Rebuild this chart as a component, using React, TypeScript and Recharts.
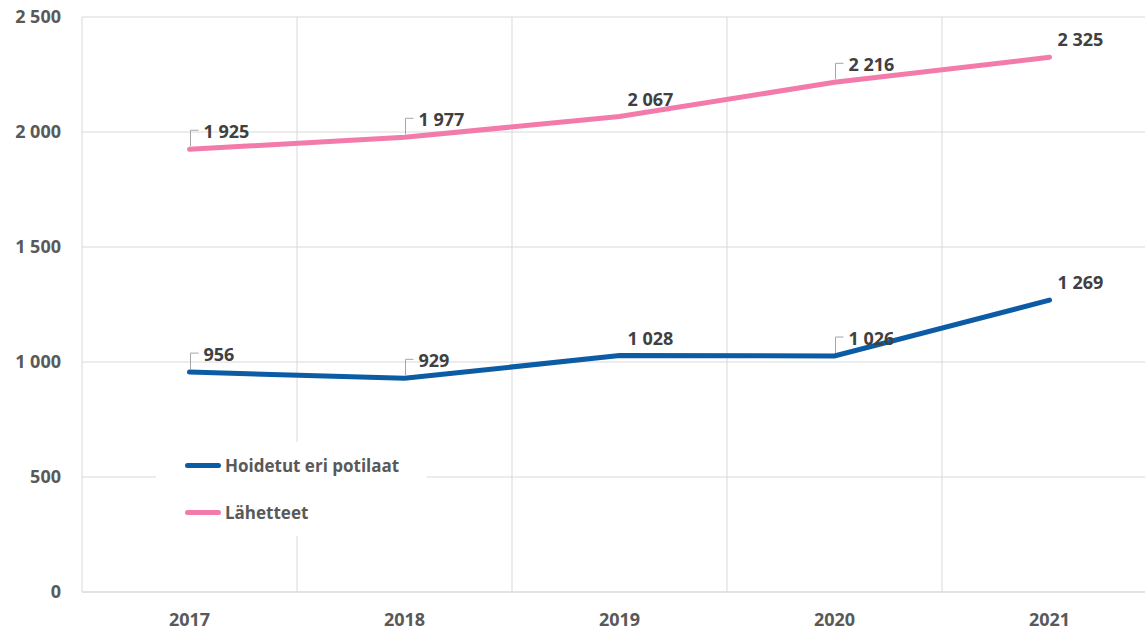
import { CartesianGrid, LabelList, Legend, Line, LineChart, XAxis, YAxis } from 'recharts'

const YEARS = ['2017', '2018', '2019', '2020', '2021']
const PATIENTS = [956, 929, 1028, 1026, 1269]
const REFERRALS = [1925, 1977, 2067, 2216, 2325]
// which data labels get the little leader line in the original
const PATIENT_LEADERS = [true, true, false, true, false]
const REFERRAL_LEADERS = [true, true, false, true, false]
const Y_TICKS = [0, 500, 1000, 1500, 2000, 2500]

const BLUE = '#0b5ca4'
const PINK = '#f27bab'
const FONT = '"Open Sans", "Liberation Sans", sans-serif'

const data = YEARS.map((year, i) => ({ year, patients: PATIENTS[i], referrals: REFERRALS[i] }))

const fmt = (v: number) => String(v).replace(/\B(?=(\d{3})+(?!\d))/g, ' ')

function makeLabel(leaders: boolean[]) {
  return (props: any) => {
    const { x, y, value, index } = props
    const leader = leaders[index]
    const tx = leader ? x + 14 : x + 8
    return (
      <g>
        {leader && (
          <polyline
            points={`${x + 1},${y - 3} ${x + 1},${y - 19} ${x + 9},${y - 19}`}
            fill="none"
            stroke="#a6a6a6"
            strokeWidth={1}
          />
        )}
        <text
          x={tx}
          y={y - 18}
          dominantBaseline="central"
          fontFamily={FONT}
          fontSize={18}
          fontWeight={700}
          fill="#404040"
        >
          {fmt(value)}
        </text>
      </g>
    )
  }
}

function LegendBox({ payload }: any) {
  return (
    <div style={{ background: '#fff', width: '100%', height: '100%' }}>
      {(payload ?? []).map((p: any) => (
        <div key={p.value} style={{ display: 'flex', alignItems: 'center', height: 47, paddingLeft: 29 }}>
          <span style={{ width: 36, height: 5, borderRadius: 3, background: p.color, marginRight: 4 }} />
          <span style={{ fontFamily: FONT, fontSize: 17, fontWeight: 700, color: '#595959' }}>{p.value}</span>
        </div>
      ))}
    </div>
  )
}

const tickStyle = { fill: '#595959', fontSize: 18, fontWeight: 700, fontFamily: FONT }

export default function App() {
  return (
    <div style={{ position: 'absolute', left: 0, top: 0, width: 1145, height: 630, overflow: 'hidden', background: '#fff' }}>
      <LineChart width={1160} height={630} data={data} margin={{ top: 17, right: 3, bottom: 0, left: 0 }}>
        <CartesianGrid
          stroke="#d9d9d9"
          verticalCoordinatesGenerator={({ offset }: any) =>
            YEARS.map((_, i) => offset.left + ((i + 1) * offset.width) / YEARS.length)
          }
        />
        <XAxis
          dataKey="year"
          scale="band"
          axisLine={{ stroke: '#d9d9d9' }}
          tickLine={false}
          tickSize={0}
          tickMargin={21}
          height={38}
          tick={tickStyle}
        />
        <YAxis
          domain={[0, 2500]}
          ticks={Y_TICKS}
          tickFormatter={fmt}
          axisLine={{ stroke: '#d9d9d9' }}
          tickLine={false}
          tickSize={0}
          tickMargin={21}
          width={82}
          interval={0}
          tick={tickStyle}
        />
        <Legend
          layout="vertical"
          align="center"
          verticalAlign="middle"
          content={<LegendBox />}
          wrapperStyle={{ left: 156, top: 442, width: 271, height: 94 }}
        />
        <Line
          name="Hoidetut eri potilaat"
          dataKey="patients"
          stroke={BLUE}
          strokeWidth={5}
          strokeLinecap="round"
          dot={false}
          activeDot={false}
          isAnimationActive={false}
        >
          <LabelList dataKey="patients" content={makeLabel(PATIENT_LEADERS)} />
        </Line>
        <Line
          name="Lähetteet"
          dataKey="referrals"
          stroke={PINK}
          strokeWidth={5}
          strokeLinecap="round"
          dot={false}
          activeDot={false}
          isAnimationActive={false}
        >
          <LabelList dataKey="referrals" content={makeLabel(REFERRAL_LEADERS)} />
        </Line>
      </LineChart>
    </div>
  )
}
